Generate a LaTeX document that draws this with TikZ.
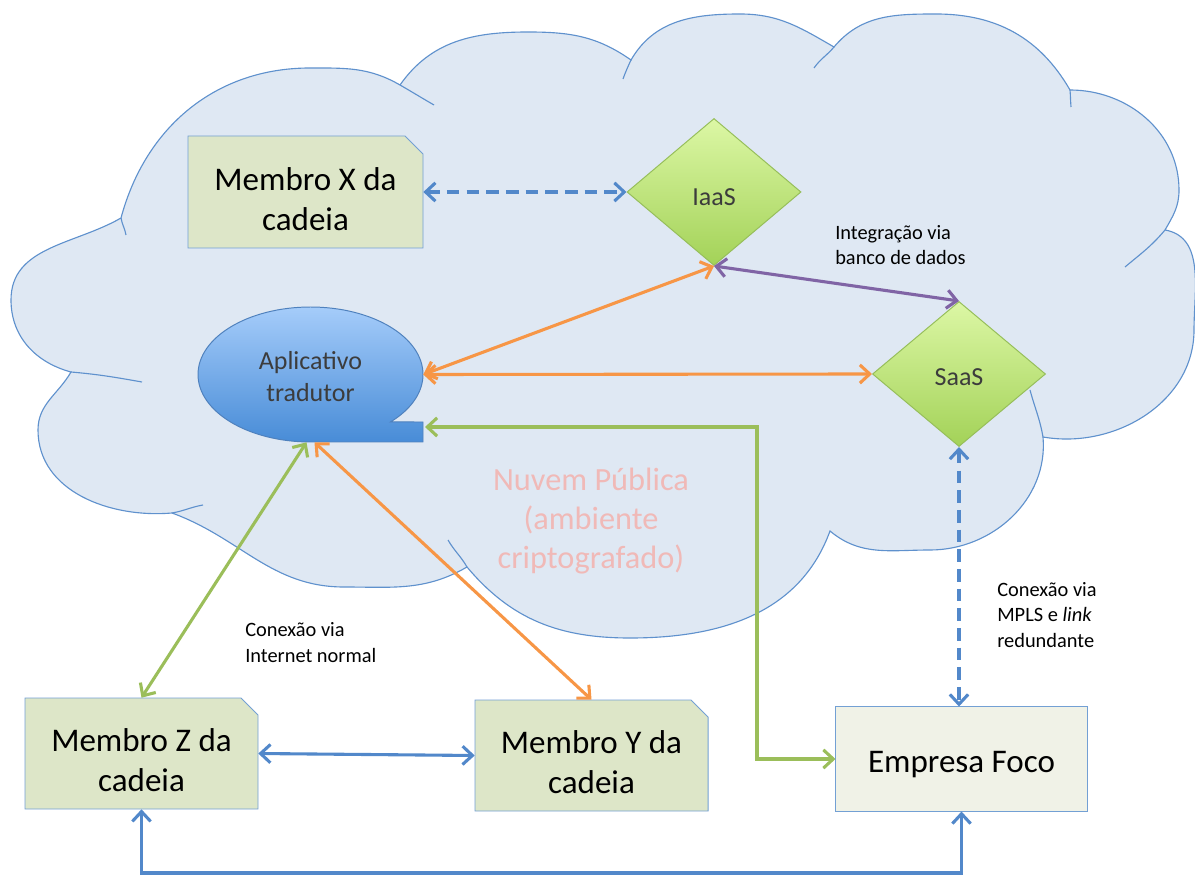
\documentclass[tikz,border=0pt]{standalone}
\usepackage{fontspec}
\setmainfont{Carlito}
\usetikzlibrary{arrows.meta,shapes.geometric}
\definecolor{mycloudfill}{RGB}{223,232,243}
\definecolor{mycloudline}{RGB}{95,145,205}
\definecolor{mymemberfill}{RGB}{221,230,200}
\definecolor{myfocofill}{RGB}{240,242,231}
\definecolor{myboxline}{RGB}{115,160,212}
\definecolor{mygreentop}{RGB}{220,247,165}
\definecolor{mygreenbottom}{RGB}{163,210,88}
\definecolor{mygreenline}{RGB}{150,190,90}
\definecolor{mybluetop}{RGB}{165,204,250}
\definecolor{mybluebottom}{RGB}{72,140,215}
\definecolor{mybluedark}{RGB}{79,129,189}
\definecolor{myblue}{RGB}{82,136,202}
\definecolor{myorange}{RGB}{247,150,70}
\definecolor{mygreen}{RGB}{155,190,90}
\definecolor{mypurple}{RGB}{128,100,165}
\definecolor{mytextgray}{RGB}{60,60,60}
\definecolor{mypink}{RGB}{240,185,183}
% altura extra na primeira linha, para baixar o texto
\newcommand{\topo}[1]{\rule{0pt}{#1}}

\begin{document}
\begin{tikzpicture}[x=0.025cm,y=0.025cm,>={Straight Barb[length=7pt,width=13pt]},
  membro/.style={align=center,inner sep=0pt,font=\fontsize{23.5}{28.5}\selectfont},
  caixa/.style={draw=myboxline,line width=0.7pt,fill=mymemberfill},
  servico/.style={diamond,draw=mygreenline,line width=0.7pt,top color=mygreentop,bottom color=mygreenbottom,
    inner sep=0pt,text=mytextgray,font=\fontsize{18.5}{22.8}\selectfont},
  nota/.style={anchor=base west,align=left,inner sep=0pt,font=\fontsize{14.5}{17.8}\selectfont},
  seta/.style={line width=2.2pt,<->},
  tracejada/.style={seta,dash pattern=on 9pt off 5pt}]
  \path[use as bounding box] (0,0) rectangle (1195,876);

  % nuvem publica
  \filldraw[fill=mycloudfill,draw=mycloudline,line width=0.8pt]
    (121,658) to[out=75,in=180] (310,808) to[out=0,in=150] (400,791)
    to[out=55,in=180] (528,844) to[out=0,in=145] (631,816)
    to[out=60,in=180] (740,862) to[out=0,in=150] (834,829)
    to[out=50,in=180] (936,862) to[out=0,in=120] (1070,786)
    to[out=0,in=90] (1179,686) to[out=-90,in=60] (1165,646)
    to[out=-10,in=90] (1194,546) to[out=-90,in=-10] (1043,439)
    to[out=-85,in=0] (930,326) to[out=180,in=-40] (830,345)
    to[out=-110,in=0] (630,238) to[out=180,in=-50] (467,309)
    to[out=-150,in=0] (344,289) to[out=180,in=-20] (172,363)
    to[out=185,in=-90] (38,446) to[out=90,in=-120] (71,504)
    to[out=165,in=-90] (11,576) to[out=90,in=-150] (121,658) -- cycle;
  \foreach \xa/\ya/\xb/\yb/\o/\i in {121/658/126/641/-80/100, 400/791/434/771/-30/150,
      631/816/623/797/-115/70, 834/829/814/808/-130/55, 1070/786/1071/769/-85/95,
      1165/646/1125/609/-130/40, 1043/439/1030/486/100/-75, 467/309/448/336/120/-60,
      172/363/203/371/10/190, 71/504/142/494/-5/170}
    \draw[mycloudline,line width=0.8pt] (\xa,\ya) to[out=\o,in=\i] (\xb,\yb);
  \node[align=center,anchor=base,inner sep=0pt,text=mypink,font=\fontsize{23}{27.5}\selectfont] (nuvem)
    at (591,308) {Nuvem Pública\\(ambiente\\criptografado)};

  % membros da cadeia
  \filldraw[caixa] (188,628) -- (188,740) -- (405,740) -- (423,722) -- (423,628) -- cycle;
  \node[membro,minimum width=5.875cm,minimum height=2.8cm] (mx) at (305.5,684) {\topo{26.3pt}Membro X da\\cadeia};
  \filldraw[caixa] (25,67) -- (25,178) -- (241,178) -- (258,161) -- (258,67) -- cycle;
  \node[membro,minimum width=5.825cm,minimum height=2.775cm] (mz) at (141.5,122.5) {\topo{26.3pt}Membro Z da\\cadeia};
  \filldraw[caixa] (475,65) -- (475,176) -- (691,176) -- (708,159) -- (708,65) -- cycle;
  \node[membro,minimum width=5.825cm,minimum height=2.775cm] (my) at (591.5,120.5) {\topo{26.3pt}Membro Y da\\cadeia};
  \node[membro,draw=myboxline,line width=0.7pt,fill=myfocofill,minimum width=6.275cm,minimum height=2.6cm]
    (foco) at (961.5,117) {\topo{23.5pt}Empresa Foco};

  % servicos
  \node[servico,minimum width=4.35cm,minimum height=3.675cm] (iaas) at (714,684) {\topo{20pt}IaaS};
  \node[servico,minimum width=4.325cm,minimum height=3.625cm] (saas) at (959,502) {\topo{17pt}SaaS};

  % aplicativo
  \shadedraw[top color=mybluetop,bottom color=mybluebottom,draw=mybluedark,line width=0.7pt]
    (310.5,434) arc[start angle=-90,end angle=-404.7,x radius=112.5,y radius=67.5]
    -- (423,454) -- (423,434) -- cycle;
  \node[ellipse,minimum width=5.625cm,minimum height=3.375cm,inner sep=0pt,align=center,
    text=mytextgray,font=\fontsize{18.5}{22.8}\selectfont] (app) at (310.5,501.5) {\topo{16.4pt}Aplicativo\\tradutor};
  \coordinate (apptail) at (425,449);
  \coordinate (gbend) at (757,0);
  \coordinate (baixo) at (0,3);

  % conexoes
  \draw[tracejada,myblue] (mx) -- (iaas);
  \draw[seta,mypurple] (iaas.south) -- (saas.north);
  \draw[seta,myorange] (app.east) -- (iaas.south);
  \draw[seta,myorange] (app.east) -- (saas.west);
  \draw[seta,mygreen] (apptail) -- (apptail -| gbend) |- (foco.west);
  \draw[seta,mygreen] ([xshift=-0.1cm]app.south) -- (mz.north);
  \draw[seta,myorange] ([xshift=0.1cm]app.south) -- (my.north);
  \draw[seta,myblue] (mz.east) -- (my.west);
  \draw[seta,myblue] (mz.south) -- (mz.south |- baixo) -- (foco.south |- baixo) -- (foco.south);
  \draw[tracejada,myblue] (saas.south) -- (saas.south |- foco.north);

  % notas
  \node[nota] (integracao) at (835,611) {Integração via\\banco de dados};
  \node[nota] (internet) at (245,214) {Conexão via\\Internet normal};
  \node[nota] (mpls) at (997,229) {Conexão via\\MPLS e \textit{link}\\redundante};
\end{tikzpicture}
\end{document}
